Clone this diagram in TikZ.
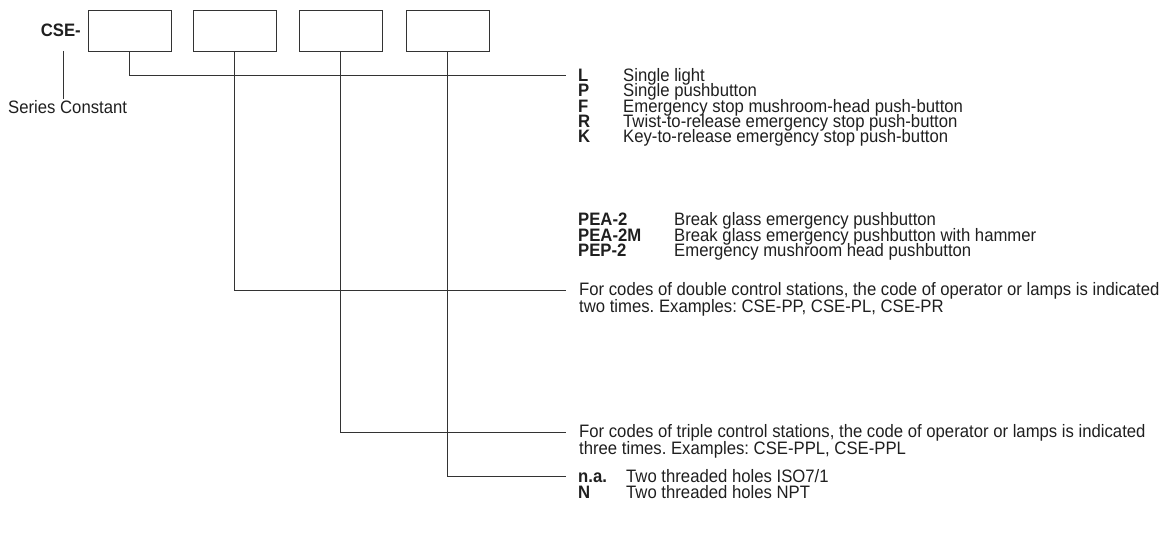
\documentclass[tikz,border=0pt]{standalone}
\usepackage{fontspec}
\setmainfont{Liberation Sans}[FakeStretch=0.928]
\frenchspacing
\begin{document}
\begin{tikzpicture}
	[x=1pt,y=-1pt, font=\fontsize{18}{17}\selectfont, text=black!88,
	 field/.style={draw=black!80, line width=0.8pt, minimum width=83pt, minimum height=41pt, inner sep=0},
	 lead/.style={draw=black!80, line width=0.8pt},
	 code/.style={anchor=base west, inner sep=0, font=\fontsize{18}{17}\selectfont\bfseries},
	 txt/.style={anchor=base west, inner sep=0},
	 para/.style={anchor=north west, inner sep=0, align=left}]
	\useasboundingbox (0,0) rectangle (1162,545);
	\foreach \i/\x in {1/129.5,2/234.5,3/340.5,4/447.5}
	\node[field] (f\i) at (\x,30.5) {};
	\node[code, anchor=base east] (cse) at (81,37) {CSE-};
	\node[txt] (sc) at (8,114) {Series Constant};
	\coordinate (cs) at (63,51);
	\draw[lead, shorten >=2pt] (cs) -- (sc.north -| cs);
	\coordinate (e1) at (566,75);
	\coordinate (e2) at (566,290);
	\coordinate (e3) at (566,432);
	\coordinate (e4) at (566,476);
	\foreach \i in {1,...,4}
	\draw[lead] (f\i.south) |- (e\i);
	\foreach \c/\d [count=\k] in {L/Single light,P/Single pushbutton,F/Emergency stop mushroom-head push-button,R/Twist-to-release emergency stop push-button,K/Key-to-release emergency stop push-button}
	{
		\node[code] (k\k) at (578,66+15.4*\k) {\c};
		\node[txt] (d\k) at (623,66+15.4*\k) {\d};
	}
	\foreach \c/\d [count=\k] in {PEA-2/Break glass emergency pushbutton,PEA-2M/Break glass emergency pushbutton with hammer,PEP-2/Emergency mushroom head pushbutton}
	{
		\node[code] (pk\k) at (578,210.5+15.5*\k) {\c};
		\node[txt] (pd\k) at (674,210.5+15.5*\k) {\d};
	}
	\node[para] (dbl) at (579,282) {For codes of double control stations, the code of operator or lamps is indicated\\two times. Examples: CSE-PP, CSE-PL, CSE-PR};
	\node[para] (tpl) at (579,424) {For codes of triple control stations, the code of operator or lamps is indicated\\three times. Examples: CSE-PPL, CSE-PPL};
	\node[code] (hk1) at (578,482) {n.a.};
	\node[txt] (hd1) at (626,482) {Two threaded holes ISO7/1};
	\node[code] (hk2) at (578,498) {N};
	\node[txt] (hd2) at (626,498) {Two threaded holes NPT};
\end{tikzpicture}
\end{document}
